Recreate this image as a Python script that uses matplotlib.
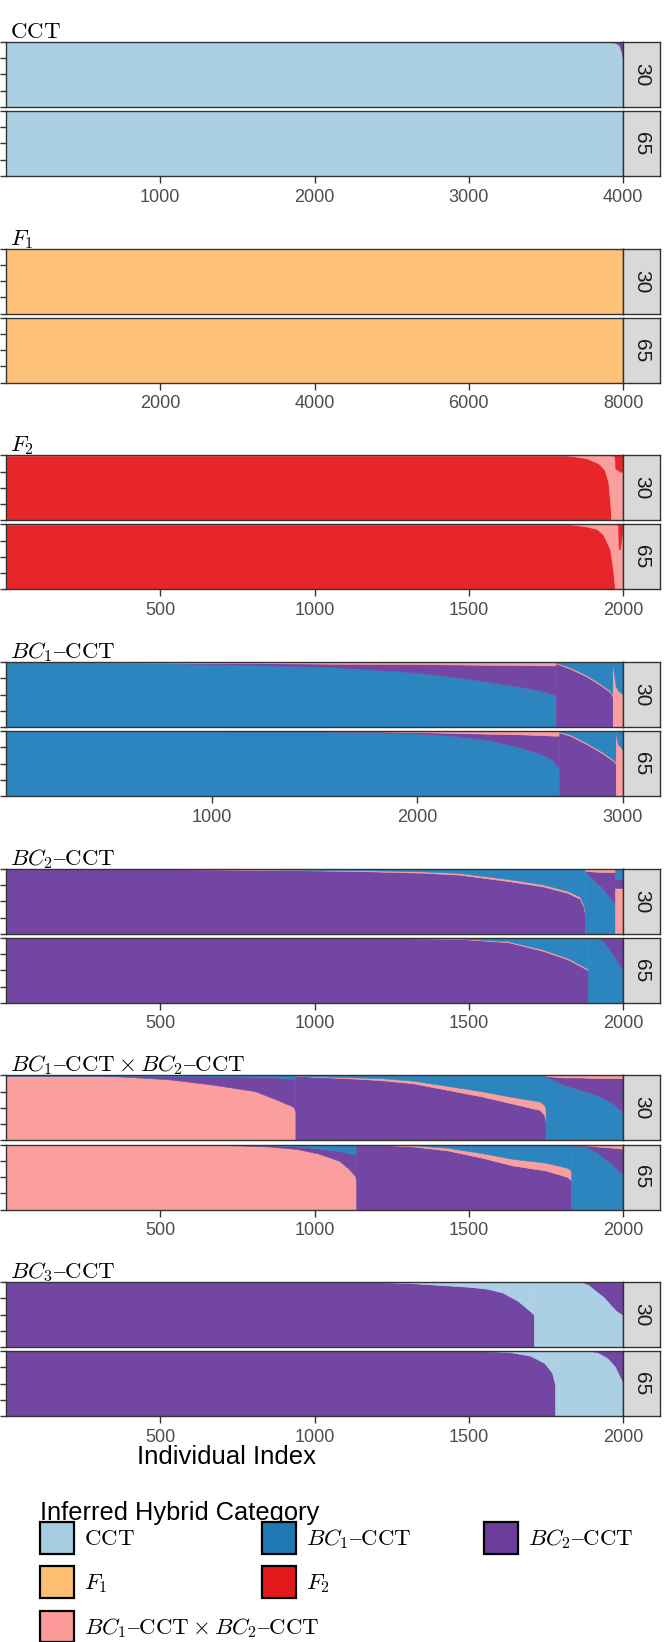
import matplotlib
matplotlib.use("Agg")
import matplotlib.pyplot as plt
from matplotlib.patches import Patch

plt.rcParams["mathtext.fontset"] = "cm"
plt.rcParams["font.family"] = ["Liberation Sans", "DejaVu Sans"]

W, H = 664, 1642

# ---- categories / colours (ColorBrewer "Paired") ----
CATS = ["CCT", "BC1", "BC2", "F1", "F2", "BC1xBC2"]
COLORS = {"CCT": "#A6CEE3", "BC1": "#1F78B4", "BC2": "#6A3D9A",
          "F1": "#FDBF6F", "F2": "#E31A1C", "BC1xBC2": "#FB9A99"}
# bars are drawn as thousands of thin columns -> slightly lighter in the panels
PANEL_COLORS = {"CCT": "#ABD0E4", "BC1": "#2D85C0", "BC2": "#7446A3",
                "F1": "#FDC277", "F2": "#E7262A", "BC1xBC2": "#FA9E9E"}
LABELS = {"CCT": r"$\mathrm{CCT}$", "BC1": r"$BC_1\mathrm{–CCT}$", "BC2": r"$BC_2\mathrm{–CCT}$",
          "F1": r"$F_1$", "F2": r"$F_2$",
          "BC1xBC2": r"$BC_1\mathrm{–CCT}\times BC_2\mathrm{–CCT}$"}

# ---- groups (simulated true category) ----
GROUP_TITLES = [LABELS["CCT"], LABELS["F1"], LABELS["F2"], LABELS["BC1"],
                LABELS["BC2"], LABELS["BC1xBC2"], r"$BC_3\mathrm{–CCT}$"]
GROUP_N = [4000, 8000, 2000, 3000, 2000, 2000, 2000]
GROUP_TICKS = [[1000, 2000, 3000, 4000], [2000, 4000, 6000, 8000],
               [500, 1000, 1500, 2000], [1000, 2000, 3000],
               [500, 1000, 1500, 2000], [500, 1000, 1500, 2000], [500, 1000, 1500, 2000]]
FACETS = ["30", "65"]

# ---- stacked posterior probabilities per panel ----
# each segment: (individual index knots, categories bottom->top, cumulative tops except the last layer)
CCT_30 = [([0, 3900, 3950, 3975, 3990, 4000], ["CCT", "BC2"], [[1, 1, .99, .95, .85, .72]])]
CCT_65 = [([0, 4000], ["CCT"], [])]
F1_30 = [([0, 8000], ["F1"], [])]
F1_65 = [([0, 8000], ["F1"], [])]
F2_30 = [
    ([0, 1820, 1880, 1920, 1940, 1952, 1958, 1962], ["F2", "BC1xBC2"],
     [[1, 1, .96, .88, .78, .6, .3, .05]]),
    ([1962, 1972, 1975, 1990, 2000], ["BC1xBC2", "F2"], [[1, 1, .8, .75, .75]]),
]
F2_65 = [
    ([0, 1830, 1880, 1915, 1935, 1958, 1968, 1974], ["F2", "BC1xBC2"],
     [[1, 1, .97, .93, .85, .62, .3, 0]]),
    ([1974, 1984, 1986, 1990, 2000], ["BC1xBC2", "F2"], [[1, 1, .62, .62, 1]]),
]
BC1_30 = [
    ([0, 400, 800, 1200, 1600, 2000, 2300, 2500, 2600, 2674], ["BC1", "BC2", "BC1xBC2"],
     [[1, .995, .98, .955, .92, .84, .72, .62, .56, .49],
      [1, .995, .99, .985, .975, .97, .96, .955, .95, .95]]),
    ([2674, 2742, 2823, 2888, 2937, 2950], ["BC2", "BC1xBC2", "BC1"],
     [[.98, .9, .78, .65, .54, .47], [.99, .92, .8, .67, .56, .5]]),
    ([2950, 2955, 2965, 2980, 3000], ["BC1xBC2", "BC1"], [[.95, .85, .62, .55, .5]]),
]
BC1_65 = [
    ([0, 1500, 1800, 2000, 2200, 2350, 2500, 2600, 2660, 2690], ["BC1", "BC2", "BC1xBC2"],
     [[1, .995, .985, .965, .92, .86, .75, .65, .55, .42],
      [1, .998, .995, .985, .97, .96, .95, .94, .93, .93]]),
    ([2690, 2742, 2823, 2904, 2953, 2965], ["BC2", "BC1xBC2", "BC1"],
     [[.98, .93, .8, .65, .54, .5], [.99, .95, .82, .67, .56, .52]]),
    ([2965, 2975, 2990, 3000], ["BC1xBC2", "BC1"], [[.95, .8, .75, .7]]),
]
BC2_30 = [
    ([0, 500, 800, 1000, 1150, 1350, 1470, 1630, 1740, 1820, 1860, 1872, 1877],
     ["BC2", "BC1xBC2", "BC1"],
     [[1, .995, .985, .975, .965, .94, .91, .81, .73, .63, .54, .42, .3],
      [1, .998, .99, .985, .98, .96, .935, .84, .76, .66, .57, .45, .33]]),
    ([1877, 1900, 1930, 1960, 1975], ["BC1", "BC2", "BC1xBC2"],
     [[.97, .85, .72, .55, .45], [.97, .96, .95, .95, .95]]),
    ([1975, 1990, 2000], ["BC1xBC2", "BC2", "BC1"], [[.7, .7, .7], [.85, .85, .85]]),
]
BC2_65 = [
    ([0, 1000, 1200, 1350, 1470, 1630, 1740, 1820, 1860, 1887], ["BC2", "BC1xBC2", "BC1"],
     [[1, 1, .997, .99, .985, .93, .8, .67, .57, .5],
      [1, 1, 1, .995, .99, .945, .82, .69, .59, .52]]),
    ([1887, 1930, 1960, 1980, 2000], ["BC1", "BC2"], [[1, .98, .8, .65, .5]]),
]
BC12_30 = [
    ([0, 300, 393, 531, 669, 807, 876, 931, 938], ["BC1xBC2", "BC2", "BC1"],
     [[1, 1, .98, .94, .86, .76, .63, .52, .45],
      [1, 1, 1, .995, .99, .98, .97, .95, .93]]),
    ([938, 1000, 1100, 1212, 1320, 1430, 1540, 1640, 1730, 1744, 1749], ["BC2", "BC1xBC2", "BC1"],
     [[.995, .98, .96, .93, .88, .78, .68, .57, .47, .4, .3],
      [1, .99, .975, .96, .92, .84, .76, .67, .6, .55, .5]]),
    ([1749, 1752, 1806, 1860, 1915, 1968, 1990, 2000], ["BC1", "BC2", "BC1xBC2"],
     [[.98, .98, .86, .78, .7, .57, .47, .45], [.99, .99, .97, .97, .96, .96, .96, .96]]),
]
BC12_65 = [
    ([0, 500, 700, 850, 944, 1013, 1080, 1110, 1131, 1135], ["BC1xBC2", "BC2", "BC1"],
     [[1, 1, .995, .97, .93, .86, .75, .63, .52, .45],
      [1, 1, 1, .99, .97, .94, .9, .87, .85, .84]]),
    ([1135, 1212, 1320, 1430, 1540, 1640, 1750, 1820, 1832], ["BC2", "BC1xBC2", "BC1"],
     [[1, .995, .97, .91, .8, .68, .6, .5, .45], [1, 1, .99, .95, .87, .78, .72, .64, .6]]),
    ([1832, 1882, 1915, 1968, 1990, 2000], ["BC1", "BC2", "BC1xBC2"],
     [[.98, .96, .88, .68, .58, .55], [.99, .985, .97, .95, .94, .94]]),
]
BC3_30 = [
    ([0, 1200, 1300, 1400, 1500, 1560, 1610, 1660, 1700, 1711], ["BC2", "CCT"],
     [[1, 1, .99, .96, .93, .9, .84, .71, .55, .5]]),
    ([1711, 1870, 1890, 1910, 1940, 1960, 1980, 2000], ["CCT", "BC2"],
     [[1, 1, .96, .88, .77, .66, .56, .5]]),
]
BC3_65 = [
    ([0, 1550, 1630, 1700, 1745, 1770, 1778, 1780], ["BC2", "CCT"],
     [[1, 1, .99, .93, .82, .67, .52, .5]]),
    ([1780, 1900, 1920, 1950, 1975, 1990, 2000], ["CCT", "BC2"],
     [[1, 1, .98, .9, .77, .62, .52]]),
]
PANELS = [(CCT_30, CCT_65), (F1_30, F1_65), (F2_30, F2_65), (BC1_30, BC1_65),
          (BC2_30, BC2_65), (BC12_30, BC12_65), (BC3_30, BC3_65)]


def draw_panel(ax, segments):
    for x, cats, tops in segments:
        lower = [0] * len(x)
        for i, cat in enumerate(cats):
            upper = tops[i] if i < len(tops) else [1] * len(x)
            c = PANEL_COLORS[cat]
            ax.fill_between(x, lower, upper, facecolor=c, edgecolor=c, lw=0.4)
            lower = upper


fig = plt.figure(figsize=(W / 100, H / 100), dpi=100)
PX_L, PX_R, STRIP_R = 6, 623, 660
PANEL_H, GAP, PERIOD, TOP0 = 65, 4, 206.7, 42

for g in range(7):
    for k, facet in enumerate(FACETS):
        top = TOP0 + g * PERIOD + k * (PANEL_H + GAP)
        rect = [PX_L / W, 1 - (top + PANEL_H) / H, (PX_R - PX_L) / W, PANEL_H / H]
        ax = fig.add_axes(rect)
        draw_panel(ax, PANELS[g][k])
        ax.set_xlim(0, GROUP_N[g])
        ax.set_ylim(0, 1)
        ax.set_yticks([0, .25, .5, .75, 1])
        ax.set_yticklabels([])
        ax.set_xticks(GROUP_TICKS[g])
        if k == 0:
            ax.tick_params(axis="x", length=0, labelbottom=False)
        else:
            ax.tick_params(axis="x", length=5, width=1.0, pad=4, labelsize=13,
                           labelcolor="#4D4D4D", color="#333333")
        ax.tick_params(axis="y", length=4.5, width=1.0, color="#333333")
        for s in ax.spines.values():
            s.set_color("#333333")
            s.set_linewidth(1.0)

        sax = fig.add_axes([PX_R / W, rect[1], (STRIP_R - PX_R) / W, PANEL_H / H])
        sax.set_facecolor("#D9D9D9")
        sax.set_xticks([])
        sax.set_yticks([])
        for s in sax.spines.values():
            s.set_color("#333333")
            s.set_linewidth(1.0)
        sax.text(0.5, 0.5, facet, rotation=-90, ha="center", va="center",
                 fontsize=15, color="#1A1A1A", transform=sax.transAxes)

    top30 = TOP0 + g * PERIOD
    fig.text(10 / W, 1 - (top30 - 4) / H, GROUP_TITLES[g], fontsize=16.5,
             ha="left", va="baseline")

fig.text(227 / W, 1 - 1464 / H, "Individual Index", fontsize=18.5, ha="center", va="baseline")
fig.text(40 / W, 1 - 1520 / H, "Inferred Hybrid Category", fontsize=18.3, ha="left", va="baseline")

# legend laid out row-wise in three columns as in the original
LEGEND_COLS = [["CCT", "F1", "BC1xBC2"], ["BC1", "F2"], ["BC2"]]
LEGEND_X = [40, 262, 484]
for col, xpx in zip(LEGEND_COLS, LEGEND_X):
    handles = [Patch(facecolor=COLORS[c], edgecolor="black", lw=1.6, label=LABELS[c]) for c in col]
    fig.legend(handles=handles, loc="upper left", bbox_to_anchor=(xpx / W, 1 - 1522 / H),
               frameon=False, fontsize=16.5, handlelength=1.5, handleheight=1.75,
               labelspacing=0.55, handletextpad=0.4, borderpad=0, borderaxespad=0)

fig.savefig("out.png", dpi=100)
